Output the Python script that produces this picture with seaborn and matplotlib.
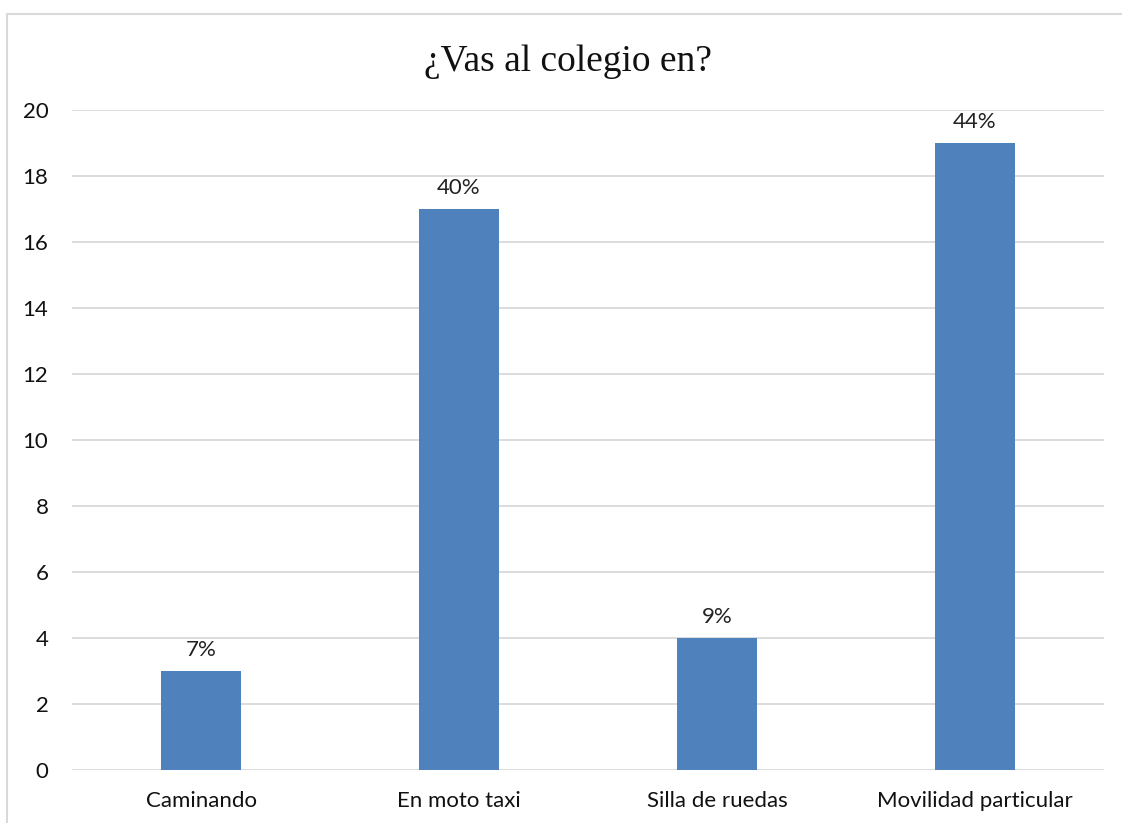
import matplotlib
matplotlib.use("Agg")
import matplotlib.pyplot as plt
import seaborn as sns
import pandas as pd

# Data
categories = ["Caminando", "En moto taxi", "Silla de ruedas", "Movilidad particular"]
counts = [3, 17, 4, 19]
percent_labels = ["7%", "40%", "9%", "44%"]

data = pd.DataFrame({"modo": categories, "n": counts})

sns.set_style("white")
plt.rcParams["font.family"] = ["Lato", "DejaVu Sans"]

fig = plt.figure(figsize=(11.22, 8.23), dpi=100)
ax = fig.add_axes([0.0642, 0.0644, 0.9198, 0.8019])

sns.barplot(x="modo", y="n", data=data, color="#4F81BD", width=0.31,
            saturation=1, errorbar=None, ax=ax, zorder=3, linewidth=0)

for i, lab in enumerate(percent_labels):
    ax.annotate(lab, (i, counts[i]), xytext=(0, 8), textcoords="offset points",
                ha="center", va="bottom", fontsize=16, color="#222222")

ax.set_ylim(0, 20)
ax.set_yticks(range(0, 21, 2))
ax.set_xlim(-0.5, 3.5)
ax.yaxis.grid(True, color="#D9D9D9", linewidth=1.3, zorder=0)
ax.set_axisbelow(True)
for s in ax.spines.values():
    s.set_visible(False)
ax.set_xlabel("")
ax.set_ylabel("")
ax.tick_params(axis="both", length=0, labelsize=16, labelcolor="#111111")
ax.tick_params(axis="y", pad=17)
ax.tick_params(axis="x", pad=15)

fig.text(0.506, 0.925, "¿Vas al colegio en?", ha="center", va="center",
         fontsize=27, family="Liberation Serif", color="#111111")

# chart frame (top and left edges visible)
fig.add_artist(plt.Line2D([7/1122, 1.0], [1 - 14/823, 1 - 14/823], color="#D9D9D9", linewidth=1.5))
fig.add_artist(plt.Line2D([7/1122, 7/1122], [0, 1 - 14/823], color="#D9D9D9", linewidth=1.5))

fig.savefig("out.png", dpi=100, facecolor="white")
